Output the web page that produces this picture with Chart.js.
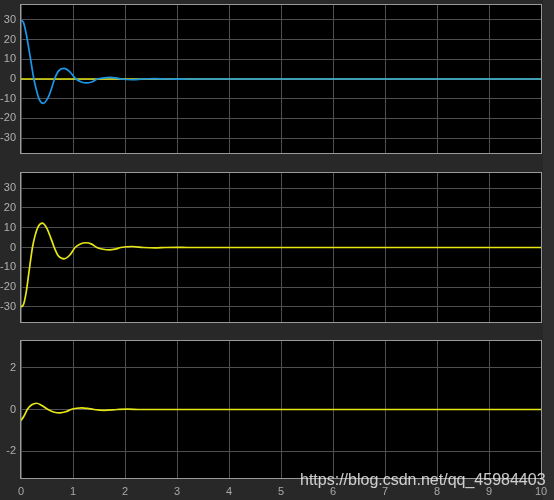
<!DOCTYPE html>
<html>
<head>
<meta charset="utf-8">
<script src="https://cdn.jsdelivr.net/npm/chart.js@4"></script>
<style>
  body { margin: 0; background: #282828; }
  #wrap { position: relative; width: 554px; height: 500px; background: #282828; overflow: hidden; }
  canvas { position: absolute; left: 0; }
  #strip { position: absolute; left: 543px; top: 0; width: 11px; height: 500px; background: #2e2e2e; }
  #mark { position: absolute; left: 300px; top: 471px; font: 16px "Liberation Sans", Arial, sans-serif;
          color: rgba(235,235,235,0.85); white-space: nowrap; }
</style>
</head>
<body>
<div id="wrap">
  <div id="strip"></div>
  <canvas id="c1" width="554" height="160" style="top:0px"></canvas>
  <canvas id="c2" width="554" height="170" style="top:160px"></canvas>
  <canvas id="c3" width="554" height="170" style="top:330px"></canvas>
  <div id="mark">https://blog.csdn.net/qq_45984403</div>
</div>
<script>
const xTicks = [0, 1, 2, 3, 4, 5, 6, 7, 8, 9, 10];
const yTicksBig = [-30, -20, -10, 0, 10, 20, 30];
const yTicksSmall = [-2, 0, 2];

// panel 1 - azul
const t1 = [0, 0.05, 0.1, 0.15, 0.2, 0.24, 0.3, 0.35, 0.43, 0.52, 0.58, 0.645, 0.72, 0.83, 0.94, 1.06, 1.16, 1.26, 1.36, 1.47, 1.6, 1.71, 1.82, 1.93, 2.14, 2.35, 2.57, 2.78, 3.0, 3.2, 10];
const azul1 = [30, 28.5, 23, 15.5, 7.5, 1, -6, -10.3, -12.4, -9.5, -5.5, 0, 4.0, 5.4, 3.6, 0, -1.5, -2.0, -1.5, 0, 0.6, 0.85, 0.6, 0, -0.37, 0, 0.16, 0, -0.07, 0, 0];
// panel 1 - amarillo (referencia en cero)
const tRef = [0, 10];
const ref1 = [0, 0];

// panel 2 - amarillo
const t2 = [0, 0.05, 0.1, 0.15, 0.2, 0.22, 0.27, 0.33, 0.41, 0.5, 0.57, 0.64, 0.72, 0.83, 0.94, 1.04, 1.14, 1.25, 1.36, 1.46, 1.58, 1.70, 1.81, 1.92, 2.14, 2.35, 2.57, 2.78, 3.0, 3.2, 10];
const amarillo2 = [-30, -28.6, -22.5, -13, -3.5, 0, 6, 10.5, 12.3, 9.5, 5, 0, -4.3, -5.7, -3.8, 0, 1.8, 2.4, 1.7, 0, -0.9, -1.2, -0.8, 0, 0.5, 0, -0.22, 0, 0.1, 0, 0];

// panel 3 - amarillo
const t3 = [0, 0.05, 0.1, 0.12, 0.2, 0.3, 0.4, 0.52, 0.64, 0.75, 0.86, 0.96, 1.07, 1.17, 1.28, 1.4, 1.6, 1.85, 2.05, 2.3, 10];
const amarillo3 = [-0.53, -0.35, -0.1, 0, 0.22, 0.30, 0.19, 0, -0.13, -0.16, -0.11, 0, 0.06, 0.08, 0.05, 0, -0.04, 0, 0.02, 0, 0];

const azul = 'rgb(25,150,232)';
const amarillo = 'rgb(230,230,20)';
const gris = '#4e4e4e';

const pts = (xs, ys) => xs.map((x, i) => ({ x: x, y: ys[i] }));

// fondo negro y marco del área
const marco = {
    id: 'marco',
    beforeDraw(chart) {
        const a = chart.chartArea, ctx = chart.ctx;
        ctx.save();
        ctx.fillStyle = '#000';
        ctx.fillRect(a.left, a.top, a.right - a.left, a.bottom - a.top);
        ctx.restore();
    },
    afterDraw(chart) {
        const a = chart.chartArea, ctx = chart.ctx;
        ctx.save();
        ctx.strokeStyle = '#9a9a9a';
        ctx.lineWidth = 1;
        ctx.strokeRect(a.left - 0.5, a.top - 0.5, a.right - a.left + 1, a.bottom - a.top + 1);
        ctx.restore();
    }
};

function crearPanel(id, datasets, yMin, yMax, yTicks, pad, showX) {
    return new Chart(document.getElementById(id), {
        type: 'line',
        data: { datasets: datasets },
        options: {
            responsive: false,
            animation: false,
            parsing: false,
            layout: { padding: pad },
            plugins: { legend: { display: false }, tooltip: { enabled: false } },
            elements: { point: { radius: 0 } },
            scales: {
                x: {
                    type: 'linear', min: 0, max: 10,
                    afterBuildTicks: s => { s.ticks = xTicks.map(v => ({ value: v })); },
                    afterFit: s => {
                        s.height = showX ? 22 : 0;
                        s.paddingLeft = 0; s.paddingRight = 0;
                    },
                    grid: { color: gris, drawTicks: false },
                    border: { display: false },
                    ticks: {
                        display: showX, padding: 7, color: '#a8a8a8',
                        font: { family: 'Liberation Sans', size: 11 }
                    }
                },
                y: {
                    min: yMin, max: yMax,
                    afterBuildTicks: s => { s.ticks = yTicks.map(v => ({ value: v })); },
                    afterFit: s => {
                        s.width = 21;
                        s.paddingTop = 0; s.paddingBottom = 0;
                    },
                    grid: { color: gris, drawTicks: false },
                    border: { display: false },
                    ticks: {
                        padding: 5, color: '#b0b0b0',
                        font: { family: 'Liberation Sans', size: 11 }
                    }
                }
            }
        },
        plugins: [marco]
    });
}

const linea = (data, color, order) => ({
    data: data, borderColor: color, borderWidth: 1.7, fill: false,
    cubicInterpolationMode: 'monotone', order: order
});

crearPanel('c1', [
    linea(pts(t1, azul1), azul, 0),
    linea(pts(tRef, ref1), amarillo, 1)
], -37.6, 37.6, yTicksBig, { top: 5, bottom: 7, left: 0, right: 13 }, false);

crearPanel('c2', [
    linea(pts(t2, amarillo2), amarillo, 0)
], -37.6, 37.6, yTicksBig, { top: 13, bottom: 8, left: 0, right: 13 }, false);

crearPanel('c3', [
    linea(pts(t3, amarillo3), amarillo, 0)
], -3.3, 3.3, yTicksSmall, { top: 11, bottom: 0, left: 0, right: 13 }, true);
</script>
</body>
</html>
